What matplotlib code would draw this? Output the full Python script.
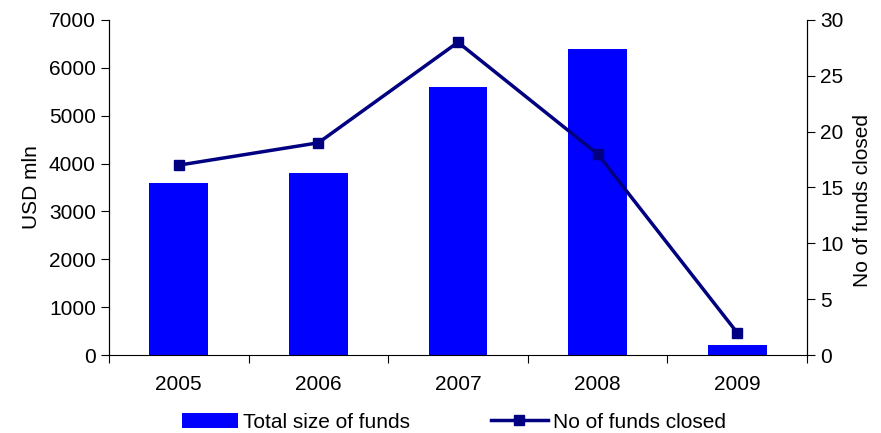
import matplotlib.pyplot as plt
import numpy as np

plt.rcParams['font.family'] = ['Liberation Sans', 'DejaVu Sans']

years = ['2005', '2006', '2007', '2008', '2009']
fund_size = [3600, 3800, 5600, 6400, 200]
funds_closed = [17, 19, 28, 18, 2]

x = np.arange(len(years))
fs = 15

fig = plt.figure(figsize=(8.81, 4.33), dpi=100)
ax = fig.add_axes([0.1237, 0.180, 0.7923, 0.774])
ax2 = ax.twinx()

bars = ax.bar(x, fund_size, width=0.42, color='#0000FF', label='Total size of funds', zorder=2)
line, = ax2.plot(x, funds_closed, color='#000080', lw=2.5, marker='s', ms=7,
                 label='No of funds closed')

ax.set_xlim(-0.5, len(years) - 0.5)
ax.set_ylim(0, 7000)
ax2.set_ylim(0, 30)
ax.set_yticks(range(0, 7001, 1000))
ax2.set_yticks(range(0, 31, 5))

# category labels between boundary ticks
ax.set_xticks(np.arange(-0.5, len(years), 1))
ax.set_xticklabels([])
ax.set_xticks(x, minor=True)
ax.set_xticklabels(years, minor=True)
ax.tick_params(axis='x', which='minor', length=0, pad=14, labelsize=fs)
ax.tick_params(axis='x', which='major', length=6, direction='out')
ax.tick_params(axis='y', labelsize=fs, length=6)
ax2.tick_params(axis='y', labelsize=fs, length=6)

for a in (ax, ax2):
    a.spines['top'].set_visible(False)
ax2.spines['bottom'].set_visible(False)

ax.set_ylabel('USD mln', fontsize=fs, labelpad=6)
ax2.set_ylabel('No of funds closed', fontsize=fs, rotation=90)
ax2.yaxis.set_label_coords(1.066, 0.46)

fig.legend([bars, line], ['Total size of funds', 'No of funds closed'],
           loc='lower center', bbox_to_anchor=(0.515, -0.04), ncol=2, frameon=False,
           fontsize=fs, handlelength=2.7, columnspacing=3.9, handletextpad=0.25)

fig.savefig('out.png', dpi=100)
